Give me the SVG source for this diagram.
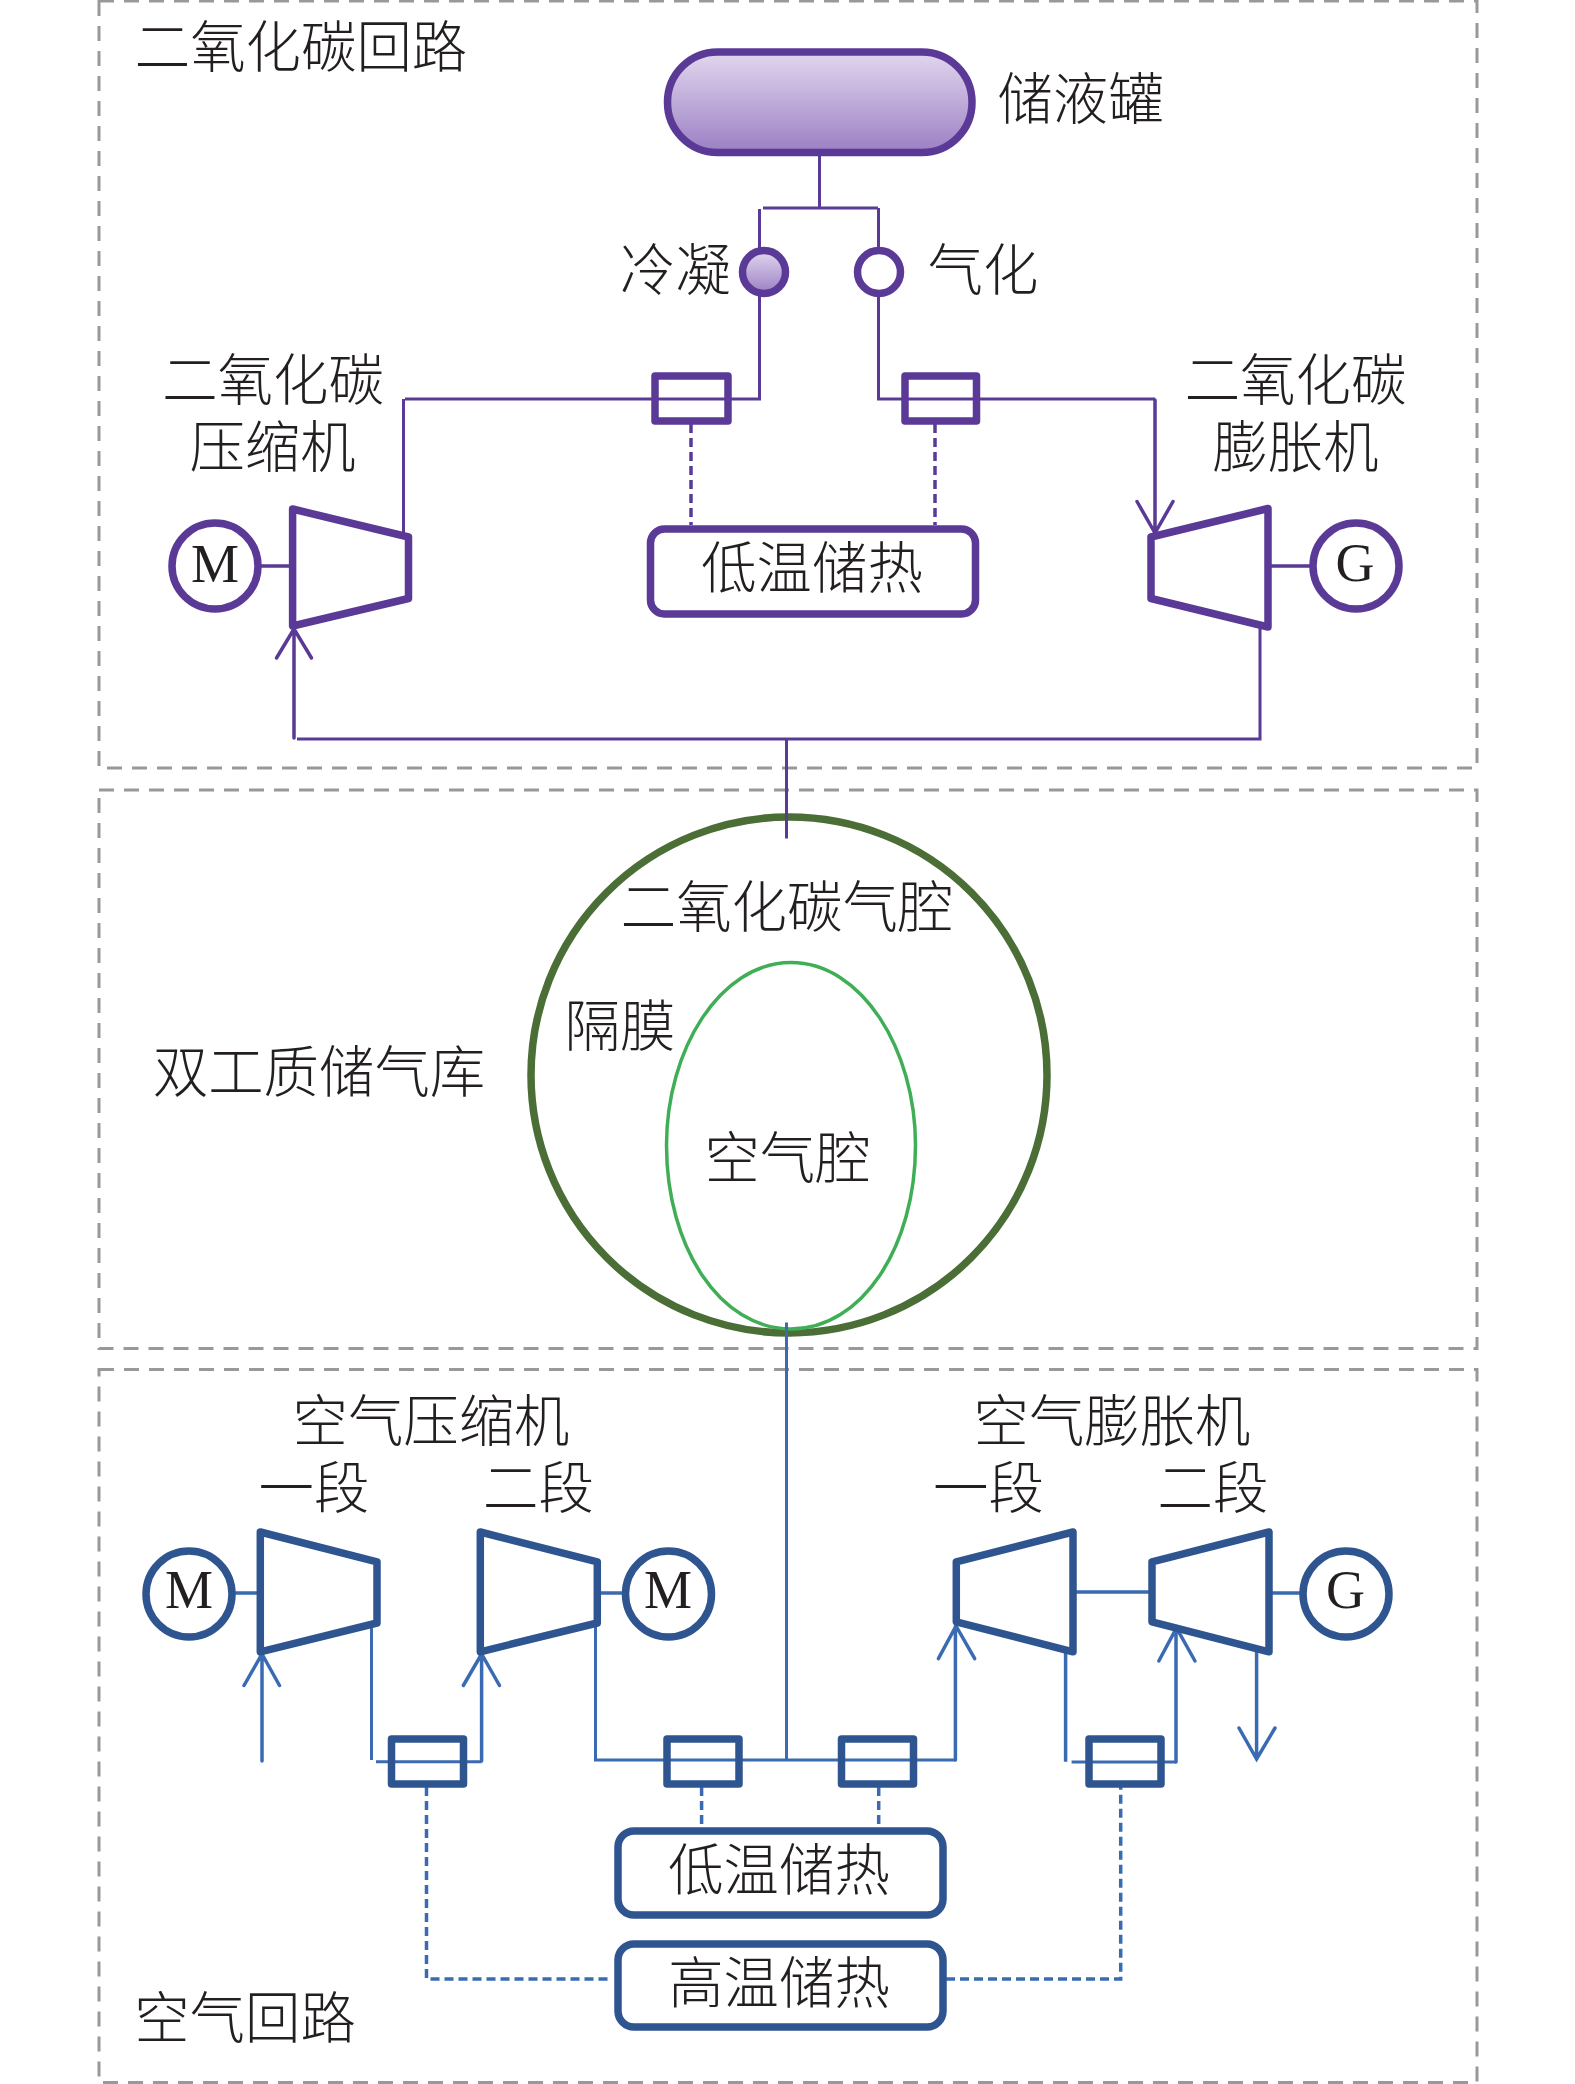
<svg xmlns="http://www.w3.org/2000/svg" width="1575" height="2084" viewBox="0 0 1575 2084">
<style>
text{font-family:"Liberation Serif","Noto Sans CJK SC",serif;font-size:55.4px;fill:#231f20;text-anchor:middle;font-weight:300}
.letter{font-size:54px;font-weight:400}
.region{fill:none;stroke:#999;stroke-width:3;stroke-dasharray:15 10}
.p{stroke:#5a3a96}.b{stroke:#2f5590}.l{stroke:#3a6bb2}
.box{fill:none;stroke-width:7.5;stroke-linejoin:round}
.pipe{fill:none;stroke-width:3}
.thick{fill:none;stroke-width:3.5;stroke-linecap:round;stroke-linejoin:miter}
.dash{fill:none;stroke-width:3.5;stroke-dasharray:9 5}
.ring{fill:#fff;stroke-width:7.5}
</style>
<defs>
<linearGradient id="liq" x1="0" y1="0" x2="0" y2="1"><stop offset="0" stop-color="#e2d7ee"/><stop offset="1" stop-color="#9b7fc4"/></linearGradient>
</defs>
<rect width="1575" height="2084" fill="#fff"/>
<g id="regions">
<rect class="region" x="99" y="1" width="1378" height="767"/>
<rect class="region" x="99" y="790" width="1378" height="558.5"/>
<rect class="region" x="99" y="1369.5" width="1378" height="713"/>
</g>

<g id="co2-cavern">
<circle cx="789" cy="1075" r="258" fill="none" stroke="#4a6e35" stroke-width="7.5"/>
<path d="M791 962.5C862 962.5 915.5 1050 915.5 1145C915.5 1247 862 1329 791 1329C720 1329 666.5 1247 666.5 1145C666.5 1050 720 962.5 791 962.5Z" fill="none" stroke="#3fae56" stroke-width="3.5"/>
<text x="787" y="926.5">二氧化碳气腔</text>
<text x="620" y="1045.5">隔膜</text>
<text x="787.5" y="1177.5">空气腔</text>
<text x="319" y="1091.5">双工质储气库</text>
</g>

<g id="connectors">
<path class="pipe p" d="M819.5 155V208M763 208H878M759.5 209V248M759.5 296V399H405M403.5 399V537"/>
<path class="pipe p" d="M878.5 208V248M878.5 296V399H1155"/>
<path class="thick p" d="M1155 400V532M1137 501.5L1155 533L1173 501.5"/>
<path class="thick p" d="M294 738V629M276.5 658L294 629L311.5 658"/>
<path class="pipe p" d="M297 739H1260V627M786.5 739V838.5"/>
<path class="dash p" d="M691 424V525M935 424V525"/>
<path class="pipe p" style="stroke-width:3.5" d="M260.6 566H292M1268 566H1311"/>

<path class="pipe l" d="M786.5 1322.5V1761M595.5 1625V1760H955.4"/>
<path class="pipe l" d="M371.5 1623V1760M376 1761.7H481.6"/>
<path class="pipe l" d="M1071.6 1762H1176"/>
<path class="thick l" d="M262 1761V1654M244 1685.5L262 1654L279.5 1685.5"/>
<path class="thick l" d="M481.6 1761V1654M463.3 1685.5L481.6 1654L499.5 1685.5"/>
<path class="thick l" d="M955.4 1760V1626M938.4 1658.7L956 1626L974.7 1658.7"/>
<path class="thick l" d="M1176 1762V1628M1158.8 1661L1176.5 1628L1195 1661"/>
<path class="thick l" d="M1256.6 1652V1759M1239 1728L1256.6 1759L1275 1728"/>
<path class="pipe l" style="stroke-width:3.5" d="M1065.6 1652V1761.7M1073 1592H1151M235 1593H260M597 1593H623M1269 1593H1300"/>
<path class="dash l" d="M426.5 1787V1979H611M701.6 1787V1824M878.7 1787V1824M946 1979H1120.7V1787"/>
</g>

<g id="storage-tank">
<rect x="667.5" y="52" width="304.5" height="100.5" rx="50" fill="url(#liq)" stroke="#5a3a96" stroke-width="7.5"/>
<text x="1080.5" y="119">储液罐</text>
</g>
<g id="condenser">
<circle cx="764" cy="272" r="21.5" fill="url(#liq)" stroke="#5a3a96" stroke-width="7.5"/>
<text x="675.5" y="289.5">冷凝</text>
</g>
<g id="vaporizer">
<circle class="ring p" cx="879" cy="272" r="21.5"/>
<text x="983" y="289.5">气化</text>
</g>
<g id="co2-hx-left"><rect class="box p" x="655" y="376" width="73" height="45"/></g>
<g id="co2-hx-right"><rect class="box p" x="905" y="376" width="71.5" height="45"/></g>
<g id="co2-cold-store">
<rect class="box p" x="650.5" y="529" width="325" height="85" rx="14"/>
<text x="812" y="588">低温储热</text>
</g>
<g id="co2-compressor">
<path class="box p" d="M292.6 509L408.5 537V598.5L292.6 626Z"/>
<text x="273" y="400">二氧化碳</text>
<text x="272.5" y="467">压缩机</text>
</g>
<g id="co2-motor">
<circle class="ring p" cx="215" cy="566" r="43"/>
<text class="letter" x="215" y="582">M</text>
</g>
<g id="co2-expander">
<path class="box p" d="M1151 537L1268 508.5V627L1151 598.5Z"/>
<text x="1295.5" y="400">二氧化碳</text>
<text x="1295.5" y="467">膨胀机</text>
</g>
<g id="co2-generator">
<circle class="ring p" cx="1356" cy="566" r="43"/>
<text class="letter" x="1355" y="581">G</text>
</g>

<g id="air-compressors-label"><text x="431" y="1440.5">空气压缩机</text></g>
<g id="air-compressor-1">
<path class="box b" d="M260.3 1532L377 1561.8V1623L260.3 1651.8Z"/>
<text x="314" y="1508">一段</text>
</g>
<g id="air-motor-1">
<circle class="ring b" cx="189" cy="1594" r="43"/>
<text class="letter" x="189" y="1608">M</text>
</g>
<g id="air-compressor-2">
<path class="box b" d="M480.3 1532L597.3 1561.8V1623L480.3 1651.8Z"/>
<text x="538.5" y="1508">二段</text>
</g>
<g id="air-motor-2">
<circle class="ring b" cx="668.5" cy="1594" r="43"/>
<text class="letter" x="668" y="1608">M</text>
</g>
<g id="air-expanders-label"><text x="1112" y="1440.5">空气膨胀机</text></g>
<g id="air-expander-1">
<path class="box b" d="M956.3 1561.8L1073 1532V1651.8L956.3 1621.8Z"/>
<text x="988.5" y="1508">一段</text>
</g>
<g id="air-expander-2">
<path class="box b" d="M1152 1561.8L1269 1532V1651.8L1152 1621.8Z"/>
<text x="1213" y="1508">二段</text>
</g>
<g id="air-generator">
<circle class="ring b" cx="1346" cy="1594" r="43"/>
<text class="letter" x="1345.5" y="1608">G</text>
</g>
<g id="air-hx-1"><rect class="box b" x="391.5" y="1739" width="72" height="45"/></g>
<g id="air-hx-2"><rect class="box b" x="667" y="1739" width="72" height="45"/></g>
<g id="air-hx-3"><rect class="box b" x="841.5" y="1739" width="72" height="45"/></g>
<g id="air-hx-4"><rect class="box b" x="1089" y="1739" width="72" height="45"/></g>
<g id="air-cold-store">
<rect class="box b" x="618" y="1831" width="325" height="84" rx="16"/>
<text x="779" y="1890">低温储热</text>
</g>
<g id="air-hot-store">
<rect class="box b" x="618" y="1944" width="325" height="83" rx="16"/>
<text x="779" y="2003">高温储热</text>
</g>
<g id="region-labels">
<text x="301" y="67">二氧化碳回路</text>
<text x="245" y="2038">空气回路</text>
</g>
</svg>
